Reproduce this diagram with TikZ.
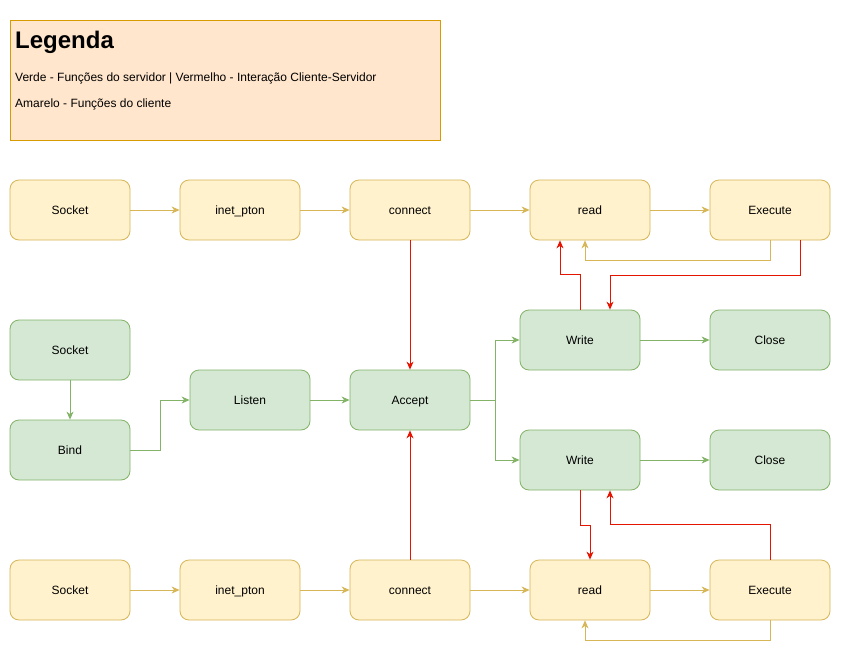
\documentclass[tikz,border=0pt]{standalone}
\usepackage{fontspec}
\setmainfont{Liberation Sans}
\usetikzlibrary{arrows.meta,calc}
\definecolor{yfill}{HTML}{FFF2CC}
\definecolor{ystroke}{HTML}{D6B656}
\definecolor{gfill}{HTML}{D5E8D4}
\definecolor{gstroke}{HTML}{82B366}
\definecolor{lfill}{HTML}{FFE6CC}
\definecolor{lstroke}{HTML}{D79B00}
\definecolor{redline}{HTML}{E51400}
\begin{document}
\begin{tikzpicture}[x=1pt,y=-1pt,
  box/.style={rounded corners=9pt,minimum width=120pt,minimum height=60pt,inner sep=0pt,line width=0.8pt,font=\fontsize{12}{14}\selectfont,text height=8.6pt,text depth=0pt},
  ybox/.style={box,draw=ystroke,fill=yfill},
  gbox/.style={box,draw=gstroke,fill=gfill},
  conn/.style={line width=0.9pt,-{Stealth[length=8pt,width=7pt,inset=2.5pt]}},
  yl/.style={conn,draw=ystroke},
  gr/.style={conn,draw=gstroke},
  rd/.style={conn,draw=redline},
  txt/.style={anchor=west,inner sep=0pt,font=\fontsize{12}{14}\selectfont,text height=8.6pt,text depth=0pt}]
\useasboundingbox[fill=white] (0,0) rectangle (841,659);
% legend
\node[draw=lstroke,fill=lfill,line width=0.8pt,minimum width=430pt,minimum height=120pt,inner sep=0pt] (leg) at (225,80) {};
\node[txt,font=\fontsize{24}{28}\selectfont\bfseries,text height=17.2pt] (lt) at (15,40) {Legenda};
\node[txt] (l1) at (15,77.5) {Verde - Funções do servidor | Vermelho - Interação Cliente-Servidor};
\node[txt] (l2) at (15,103.5) {Amarelo - Funções do cliente};
% row 1 (client)
\node[ybox] (s1) at (70,210) {Socket};
\node[ybox] (i1) at (240,210) {inet\_pton};
\node[ybox] (c1) at (410,210) {connect};
\node[ybox] (r1) at (590,210) {read};
\node[ybox] (e1) at (770,210) {Execute};
% server
\node[gbox] (gs) at (70,350) {Socket};
\node[gbox] (bd) at (70,450) {Bind};
\node[gbox] (ls) at (250,400) {Listen};
\node[gbox] (ac) at (410,400) {Accept};
\node[gbox] (w1) at (580,340) {Write};
\node[gbox] (k1) at (770,340) {Close};
\node[gbox] (w2) at (580,460) {Write};
\node[gbox] (k2) at (770,460) {Close};
% row 3 (client)
\node[ybox] (s3) at (70,590) {Socket};
\node[ybox] (i3) at (240,590) {inet\_pton};
\node[ybox] (c3) at (410,590) {connect};
\node[ybox] (r3) at (590,590) {read};
\node[ybox] (e3) at (770,590) {Execute};
% client edges
\draw[yl] (s1) -- (i1);
\draw[yl] (i1) -- (c1);
\draw[yl] (c1) -- (r1);
\draw[yl] (r1) -- (e1);
\draw[yl] (e1.south) -- ++(0,20) -| ([xshift=-5pt]r1.south);
\draw[yl] (s3) -- (i3);
\draw[yl] (i3) -- (c3);
\draw[yl] (c3) -- (r3);
\draw[yl] (r3) -- (e3);
\draw[yl] (e3.south) -- ++(0,20) -| ([xshift=-5pt]r3.south);
% server edges
\draw[gr] (gs) -- (bd);
\draw[gr] (bd.east) -- ++(30,0) |- (ls.west);
\draw[gr] (ls) -- (ac);
\draw[gr] (ac.east) -- ++(25,0) |- (w1.west);
\draw[gr] (ac.east) -- ++(25,0) |- (w2.west);
\draw[gr] (w1) -- (k1);
\draw[gr] (w2) -- (k2);
% interaction edges
\draw[rd] (c1) -- (ac);
\draw[rd] (c3) -- (ac);
\draw[rd] ([xshift=30pt]e1.south) -- ++(0,35) -| ([xshift=30pt]w1.north);
\draw[rd] (w1.north) -- ++(0,-35) -| ([xshift=-30pt]r1.south);
\draw[rd] (w2.south) -- ++(0,35) -| (r3.north);
\draw[rd] (e3.north) -- ++(0,-35) -| ([xshift=30pt]w2.south);
\end{tikzpicture}
\end{document}
